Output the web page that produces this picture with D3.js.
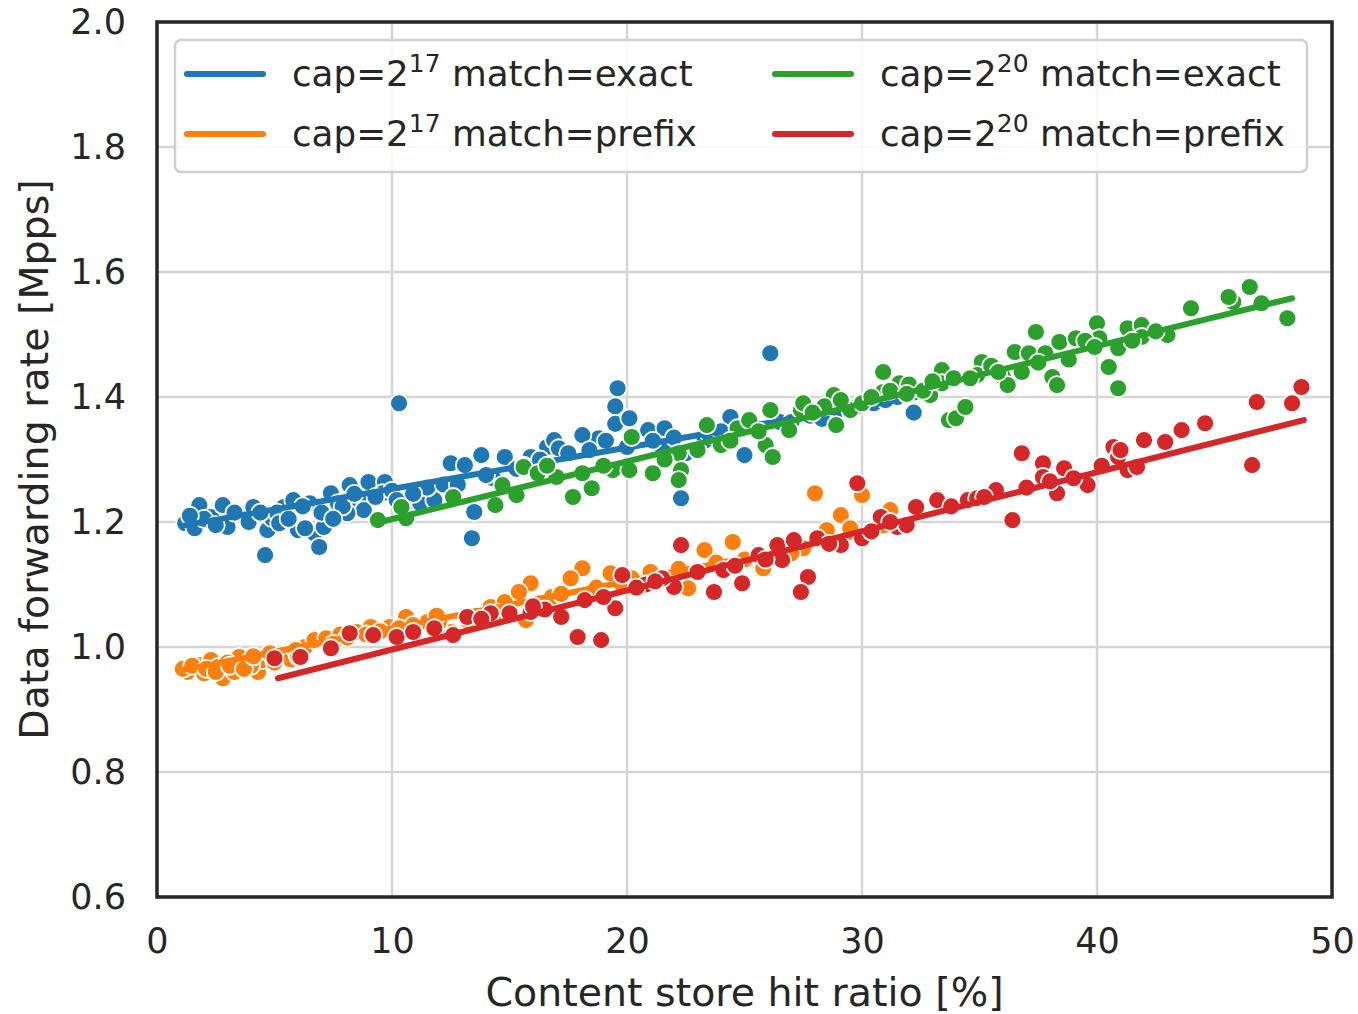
<!DOCTYPE html>
<html>
<head>
<meta charset="utf-8">
<script src="https://cdn.jsdelivr.net/npm/d3@7"></script>
<style>
body { margin: 0; background: #fff; }
text { font-family: "DejaVu Sans", sans-serif; fill: #262626; }
</style>
</head>
<body>
<script>
// chart data

var seriesNames = ["exact17", "prefix17", "exact20", "prefix20"];
var seriesColors = ["#1f77b4", "#ff7f0e", "#2ca02c", "#d62728"];
var legendCap = ["17", "17", "20", "20"];
var legendMatch = ["exact", "prefix", "exact", "prefix"];

var xTicks = [0, 10, 20, 30, 40, 50];
var yTicks = [0.6, 0.8, 1.0, 1.2, 1.4, 1.6, 1.8, 2.0];

// cap=2^17 match=exact
var exact17 = [
  [1.2,1.198],[1.6,1.19],[1.8,1.227],[2.3,1.208],[2.8,1.227],[3.0,1.192],[3.6,1.211],
  [4.1,1.224],[4.7,1.187],[4.9,1.206],[5.4,1.224],[5.8,1.235],[6.0,1.187],[6.5,1.23],
  [6.7,1.182],[7.1,1.192],[7.4,1.246],[7.7,1.23],[8.2,1.259],[8.6,1.235],[9.0,1.264],
  [9.7,1.264],[9.6,1.246],[8.8,1.219],[8.1,1.214],[4.6,1.147],[6.9,1.16],[6.3,1.19],
  [10.6,1.23],[11.2,1.23],[11.8,1.235],[12.5,1.294],[13.1,1.291],[13.8,1.307],[14.8,1.304],
  [13.5,1.216],[13.4,1.174],[10.3,1.39],[15.9,1.304],[16.6,1.32],[16.9,1.331],
  [19.6,1.414],[19.5,1.385],[19.5,1.357],[20.1,1.366],[20.9,1.347],[21.6,1.35],[18.8,1.334],
  [18.1,1.339],[17.1,1.318],[24.4,1.368],[25.0,1.307],[22.3,1.238],[26.1,1.47],[32.2,1.375],
  [20.0,1.32],[21.5,1.32],[22.5,1.31],[23.3,1.33],[23.5,1.34],[26.5,1.36],[27.8,1.37],
  [28.3,1.365],[29.0,1.38],[30.5,1.39],[31.5,1.40],[32.0,1.41],[2.0,1.205],[3.3,1.215],
  [5.1,1.215],[7.9,1.225],[10.0,1.25],[11.5,1.255],[12.2,1.26],[14.3,1.27],[15.3,1.285],
  [1.4,1.21],[2.5,1.195],[3.9,1.2],[4.4,1.215],[5.2,1.198],[5.6,1.205],[6.2,1.225],
  [7.0,1.215],[7.5,1.205],[8.4,1.245],[9.3,1.24],[10.2,1.235],[10.9,1.245],[12.8,1.26],
  [14.0,1.275],[15.6,1.29],[16.3,1.3],[17.5,1.31],[18.4,1.315],[19.1,1.33],[21.1,1.33],
  [22.0,1.335],[24.0,1.345],[25.5,1.35],[27.0,1.36],[29.8,1.385],[31.0,1.395]
];

// cap=2^17 match=prefix
var prefix17 = [
  [1.3,0.96],[1.8,0.971],[2.3,0.979],[2.8,0.95],[3.3,0.96],[3.5,0.984],[4.3,0.96],
  [3.9,0.976],[4.5,0.979],[5.4,0.987],[6.3,1.0],[6.7,1.011],[7.2,1.014],[8.5,1.024],
  [9.1,1.032],[9.9,1.032],[10.6,1.048],[11.5,1.04],[12.5,1.024],[13.2,1.043],[14.2,1.064],
  [14.8,1.072],[15.7,1.043],[15.9,1.102],[15.4,1.088],[18.1,1.126],[17.6,1.11],[19.3,1.118],
  [21.0,1.12],[23.3,1.155],[24.5,1.168],[22.6,1.094],[25.8,1.126],[28.0,1.246],[29.1,1.211],
  [30.0,1.243],[31.2,1.219],[28.5,1.187],[27.5,1.158],[1.1,0.965],[2.0,0.958],[2.6,0.968],
  [3.0,0.975],[4.0,0.97],[4.8,0.99],[5.7,0.98],[7.8,1.02],[10.3,1.03],[12.0,1.04],[16.8,1.08],
  [20.2,1.11],[26.6,1.16],[29.5,1.19],[1.5,0.97],[2.1,0.965],[2.5,0.96],[3.1,0.97],
  [3.7,0.965],[4.1,0.985],[5.0,0.975],[5.9,0.995],[6.0,0.985],[7.5,1.005],[8.1,1.015],
  [8.9,1.02],[9.5,1.025],[10.9,1.035],[11.9,1.05],[13.6,1.05],[14.5,1.055],[16.3,1.07],
  [17.2,1.085],[18.7,1.095],[19.8,1.1],[21.6,1.11],[22.2,1.125],[23.8,1.135],[25.0,1.14],
  [27.0,1.15]
];

// cap=2^20 match=exact
var exact20 = [
  [9.4,1.203],[10.6,1.206],[10.4,1.224],[12.6,1.24],[14.4,1.227],[14.7,1.259],[15.3,1.243],
  [15.6,1.288],[16.2,1.278],[17.0,1.272],[17.7,1.24],[18.5,1.254],[18.1,1.278],[19.4,1.283],
  [20.1,1.283],[20.2,1.336],[21.1,1.278],[22.2,1.31],[22.3,1.283],[22.2,1.267],[23.4,1.355],
  [24.0,1.323],[24.7,1.35],[25.2,1.363],[25.9,1.323],[26.2,1.304],[26.1,1.379],[26.9,1.347],
  [27.4,1.379],[28.8,1.403],[28.9,1.355],[29.5,1.379],[30.9,1.44],[30.9,1.408],[31.6,1.422],
  [32.9,1.403],[33.4,1.443],[33.7,1.363],[34.0,1.366],[34.4,1.384],[33.4,1.422],[35.1,1.456],
  [36.0,1.432],[36.2,1.419],[36.5,1.472],[37.1,1.47],[37.4,1.504],[38.1,1.432],[38.3,1.419],
  [38.4,1.488],[39.1,1.494],[40.0,1.518],[40.1,1.494],[40.5,1.448],[40.9,1.414],[40.9,1.478],
  [41.3,1.51],[41.9,1.515],[41.9,1.496],[43.0,1.499],[44.0,1.542],[45.8,1.552],[46.5,1.576],
  [47.0,1.55],[48.1,1.526],[45.6,1.56],[27.5,1.39],[28.4,1.385],[30.0,1.39],[31.2,1.41],
  [32.0,1.42],[32.6,1.41],[34.9,1.435],[35.5,1.45],[36.8,1.44],[37.8,1.47],[38.8,1.46],
  [39.5,1.49],[16.6,1.29],[19.0,1.29],[21.6,1.3],[23.0,1.315],[24.4,1.33],[25.6,1.345],
  [27.9,1.375],[29.1,1.395],[30.4,1.4],[31.9,1.405],[33.0,1.425],[33.9,1.43],[34.6,1.43],
  [35.8,1.44],[37.5,1.455],[39.9,1.48],[41.5,1.49],[42.5,1.505]
];

// cap=2^20 match=prefix
var prefix20 = [
  [5.0,0.982],[6.1,0.984],[7.4,0.998],[8.2,1.022],[9.2,1.019],[10.2,1.016],[10.9,1.024],
  [11.8,1.030],[12.6,1.019],[13.2,1.048],[14.2,1.054],[15.0,1.054],[15.9,1.056],[17.2,1.048],
  [17.9,1.016],[18.9,1.011],[19.5,1.062],[19.8,1.115],[22.0,1.096],[22.3,1.163],[23.7,1.088],
  [24.1,1.123],[24.9,1.102],[25.6,1.147],[26.4,1.163],[26.6,1.139],[27.1,1.171],[27.7,1.112],
  [27.4,1.088],[28.1,1.174],[29.1,1.163],[29.8,1.262],[30.0,1.174],[30.8,1.208],[31.5,1.192],
  [32.3,1.222],[33.2,1.238],[31.9,1.195],[33.2,1.235],[34.5,1.235],[35.7,1.251],[36.4,1.203],
  [36.8,1.31],[37.7,1.294],[38.3,1.246],[38.6,1.286],[37.7,1.272],[39.6,1.259],[40.7,1.32],
  [41.3,1.283],[42.0,1.331],[42.9,1.328],[43.6,1.347],[44.6,1.358],[46.6,1.291],[46.8,1.392],
  [48.3,1.39],[48.7,1.416],[40.9,1.304],[41.7,1.288],[34.9,1.238],[32.3,1.224],[16.5,1.06],
  [20.8,1.1],[21.5,1.11],[13.8,1.045],[16.0,1.065],[18.2,1.075],[19.0,1.08],[20.4,1.095],
  [21.2,1.105],[23.0,1.12],[24.6,1.13],[25.9,1.14],[28.6,1.165],[30.4,1.185],[31.2,1.2],
  [33.8,1.225],[35.2,1.24],[37.0,1.255],[38.0,1.265],[39.0,1.27],[40.2,1.29],[41.0,1.315]
];

// regression line ends [x0, y0, x1, y1]
var fitLines = [
  [1.2, 1.195, 32.3, 1.400],
  [1.1, 0.963, 31.3, 1.190],
  [9.5, 1.200, 48.3, 1.558],
  [5.15, 0.950, 48.8, 1.363]
];

var seriesData = [exact17, prefix17, exact20, prefix20];

var width = 1358, height = 1014;
var plotLeft = 157, plotRight = 1332, plotTop = 22, plotBottom = 897;

var svg = d3.select("body").append("svg")
  .attr("width", width)
  .attr("height", height);

var x = d3.scaleLinear().domain([0, 50]).range([plotLeft, plotRight]);
var y = d3.scaleLinear().domain([0.6, 2.0]).range([plotBottom, plotTop]);

// grid
svg.append("g").selectAll("line")
  .data(xTicks)
  .enter().append("line")
  .attr("x1", function(d){ return x(d); })
  .attr("x2", function(d){ return x(d); })
  .attr("y1", plotTop).attr("y2", plotBottom)
  .style("stroke", "#d5d5d5").style("stroke-width", 2.5);

svg.append("g").selectAll("line")
  .data(yTicks)
  .enter().append("line")
  .attr("y1", function(d){ return y(d); })
  .attr("y2", function(d){ return y(d); })
  .attr("x1", plotLeft).attr("x2", plotRight)
  .style("stroke", "#d5d5d5").style("stroke-width", 2.5);

// points and fit lines, one series after another
var line = d3.line()
  .x(function(d){ return x(d[0]); })
  .y(function(d){ return y(d[1]); });

seriesData.forEach(function(data, i){
  svg.append("g").selectAll("circle")
    .data(data)
    .enter().append("circle")
    .attr("cx", function(d){ return x(d[0]); })
    .attr("cy", function(d){ return y(d[1]); })
    .attr("r", 9)
    .style("fill", seriesColors[i])
    .style("stroke", "#fff")
    .style("stroke-width", 1.8);

  var f = fitLines[i];
  svg.append("path")
    .datum([[f[0], f[1]], [f[2], f[3]]])
    .attr("d", line)
    .style("fill", "none")
    .style("stroke", seriesColors[i])
    .style("stroke-width", 6)
    .style("stroke-linecap", "round");
});

// frame
svg.append("rect")
  .attr("x", plotLeft).attr("y", plotTop)
  .attr("width", plotRight - plotLeft).attr("height", plotBottom - plotTop)
  .style("fill", "none")
  .style("stroke", "#262626")
  .style("stroke-width", 3.5);

// axes, drawn with d3 and then stripped to the labels
var xAxis = svg.append("g")
  .attr("transform", "translate(0," + plotBottom + ")")
  .call(d3.axisBottom(x).tickValues(xTicks).tickFormat(d3.format("d")).tickSize(0).tickPadding(31));
var yAxis = svg.append("g")
  .attr("transform", "translate(" + plotLeft + ",0)")
  .call(d3.axisLeft(y).tickValues(yTicks).tickFormat(d3.format(".1f")).tickSize(0).tickPadding(31));

[xAxis, yAxis].forEach(function(a){
  a.select(".domain").remove();
  a.selectAll("text")
    .style("font-family", "DejaVu Sans, sans-serif")
    .style("font-size", "35px")
    .style("fill", "#262626");
});

svg.append("text")
  .attr("x", (plotLeft + plotRight) / 2)
  .attr("y", 1006)
  .attr("text-anchor", "middle")
  .style("font-size", "39.5px")
  .text("Content store hit ratio [%]");

svg.append("text")
  .attr("transform", "translate(48," + ((plotTop + plotBottom) / 2) + ") rotate(-90)")
  .attr("text-anchor", "middle")
  .style("font-size", "39.5px")
  .text("Data forwarding rate [Mpps]");

// legend
svg.append("rect")
  .attr("x", 175).attr("y", 40)
  .attr("width", 1132).attr("height", 132)
  .attr("rx", 6)
  .style("fill", "#fff").style("fill-opacity", 0.85)
  .style("stroke", "#d0d0d0").style("stroke-width", 2.5);

var legendPos = [[187, 74], [187, 134], [775, 74], [775, 134]];

seriesNames.forEach(function(name, i){
  var p = legendPos[i];
  svg.append("line")
    .attr("x1", p[0]).attr("x2", p[0] + 76)
    .attr("y1", p[1]).attr("y2", p[1])
    .style("stroke", seriesColors[i])
    .style("stroke-width", 6)
    .style("stroke-linecap", "round");

  var t = svg.append("text")
    .attr("x", p[0] + 105)
    .attr("y", p[1] + 12)
    .style("font-size", "35.7px");
  t.append("tspan").text("cap=2");
  t.append("tspan").attr("dy", -14).style("font-size", "25px").text(legendCap[i]);
  t.append("tspan").attr("dy", 14).text(" match=" + legendMatch[i]);
});
</script>
</body>
</html>
